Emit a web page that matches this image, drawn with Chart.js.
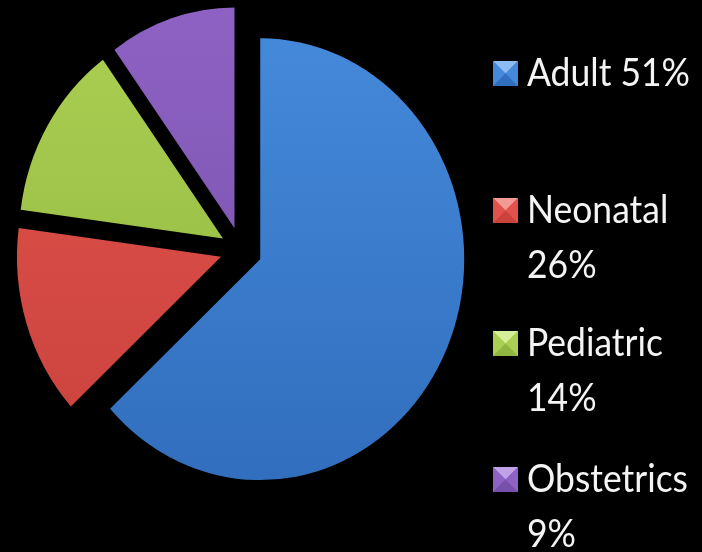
<!DOCTYPE html>
<html>
<head>
<meta charset="utf-8">
<script src="https://cdn.jsdelivr.net/npm/chart.js@4.4.1/dist/chart.umd.min.js"></script>
<style>
  html, body { margin: 0; padding: 0; background: #000; }
  #wrap { width: 702px; height: 552px; position: relative; background: #000; }
</style>
</head>
<body>
<div id="wrap"><canvas id="c"></canvas></div>
<script>
// ---- data ----
const categories = ['Adult', 'Neonatal', 'Pediatric', 'Obstetrics'];
const sliceShares = [63.1, 13.9, 12.9, 10.0];      // slice sizes as drawn in the picture
const legendPercents = ['51%', '26%', '14%', '9%']; // percentages printed in the legend

// ---- style ----
const colorsTop    = ['#4589da', '#e2524c', '#abcf52', '#8e62c4'];
const colorsBottom = ['#316ebd', '#c9423c', '#90b63f', '#7650aa'];
const colorsLight  = ['#8cbcf2', '#f29a94', '#d6ee98', '#c0a2e6'];

function sliceFill(context) {
  const chart = context.chart;
  const i = context.dataIndex;
  const area = chart.chartArea;
  if (!area) return colorsTop[i];
  const cy = (area.top + area.bottom) / 2;
  const g = chart.ctx.createLinearGradient(0, cy - 210, 0, cy + 210);
  g.addColorStop(0, colorsTop[i]);
  g.addColorStop(1, colorsBottom[i]);
  return g;
}

// draws each arc of the pie pulled out along its mid angle, slightly stretched vertically
const explodePie = {
  id: 'explodePie',
  beforeDatasetDraw(chart, args, opts) {
    const ctx = chart.ctx;
    args.meta.data.forEach((arc) => {
      const p = arc.getProps(['x', 'y', 'startAngle', 'endAngle']);
      const mid = (p.startAngle + p.endAngle) / 2;
      ctx.save();
      ctx.translate(p.x, p.y);
      ctx.scale(1, opts.stretchY);
      ctx.translate(-p.x, -p.y);
      ctx.translate(Math.cos(mid) * opts.distance, Math.sin(mid) * opts.distance);
      arc.draw(ctx);
      ctx.restore();
    });
    return false;
  }
};

function drawBox(ctx, x, y, s, i) {
  const cx = x + s / 2, cy = y + s / 2;
  const tri = (pts, col) => {
    ctx.beginPath();
    ctx.moveTo(pts[0][0], pts[0][1]);
    ctx.lineTo(pts[1][0], pts[1][1]);
    ctx.lineTo(pts[2][0], pts[2][1]);
    ctx.closePath();
    ctx.fillStyle = col;
    ctx.fill();
  };
  ctx.fillStyle = colorsTop[i];
  ctx.fillRect(x, y, s, s);
  tri([[x, y], [x + s, y], [cx, cy]], colorsLight[i]);
  tri([[x, y], [x, y + s], [cx, cy]], colorsTop[i]);
  tri([[x + s, y], [x + s, y + s], [cx, cy]], colorsTop[i]);
  tri([[x, y + s], [x + s, y + s], [cx, cy]], colorsBottom[i]);
}

const sideLegend = {
  id: 'sideLegend',
  afterDraw(chart, args, o) {
    const ctx = chart.ctx;
    ctx.save();
    ctx.font = o.fontSize + 'px ' + o.fontFamily;
    ctx.textBaseline = 'alphabetic';
    ctx.textAlign = 'left';
    const ref = ctx.measureText(categories[0] + ' ' + legendPercents[0]).width;
    const sx = o.firstLineWidth / ref;
    categories.forEach((cat, i) => {
      const one = cat + ' ' + legendPercents[i];
      const lines = ctx.measureText(one).width * sx <= o.maxWidth ? [one] : [cat, legendPercents[i]];
      const base = o.baselines[i];
      drawBox(ctx, o.boxX, base - o.boxSize, o.boxSize, i);
      ctx.fillStyle = o.color;
      lines.forEach((ln, j) => {
        ctx.save();
        ctx.translate(o.textX, base + j * o.lineHeight);
        ctx.scale(sx, 1);
        ctx.fillText(ln, 0, 0);
        ctx.restore();
      });
    });
    ctx.restore();
  }
};

new Chart(document.getElementById('c'), {
  type: 'pie',
  data: {
    labels: categories,
    datasets: [{
      data: sliceShares,
      backgroundColor: sliceFill,
      borderWidth: 0,
      radius: 204
    }]
  },
  options: {
    responsive: true,
    maintainAspectRatio: false,
    animation: false,
    events: [],
    layout: { padding: { left: 0, right: 220, top: 0, bottom: 52 } },
    plugins: {
      legend: { display: false },
      tooltip: { enabled: false },
      explodePie: { distance: 21, stretchY: 1.083 },
      sideLegend: {
        fontFamily: 'Lato, "Open Sans", sans-serif',
        fontSize: 39,
        color: '#f4f4f4',
        firstLineWidth: 163,
        maxWidth: 175,
        boxX: 493,
        boxSize: 25,
        textX: 527,
        lineHeight: 55,
        baselines: [86, 223, 356, 492]
      }
    }
  },
  plugins: [explodePie, sideLegend]
});
</script>
</body>
</html>
